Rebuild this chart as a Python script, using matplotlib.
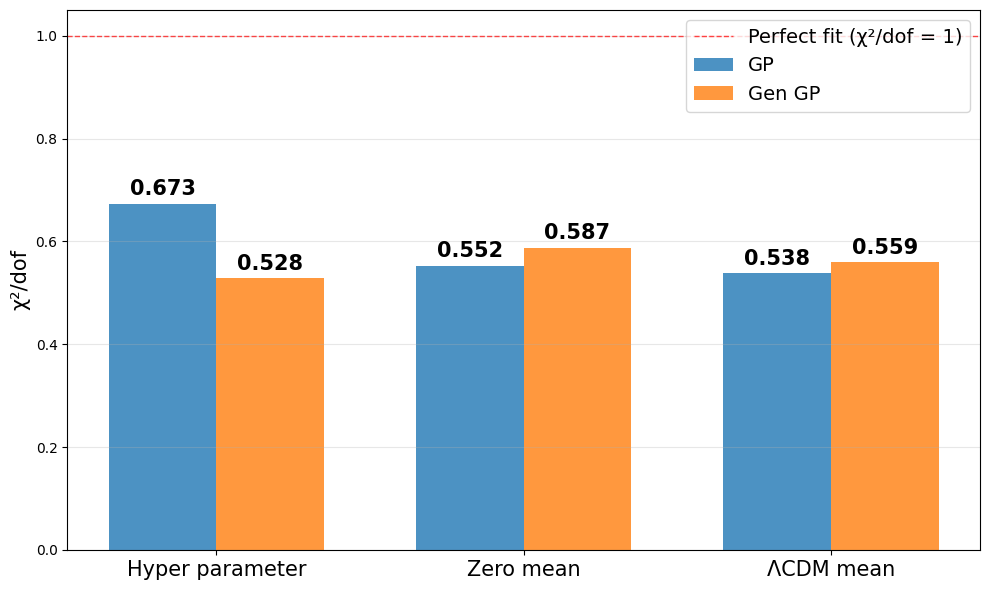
import numpy as np
import matplotlib.pyplot as plt

methods = ["Hyper parameter", "Zero mean", "ΛCDM mean"]
gp_vals = [0.673, 0.552, 0.538]
gen_gp_vals = [0.528, 0.587, 0.559]

x = np.arange(len(methods))
width = 0.35

fig, ax = plt.subplots(figsize=(9.89, 5.9), dpi=100)
b1 = ax.bar(x - width/2, gp_vals, width, label="GP", color="tab:blue", alpha=0.8)
b2 = ax.bar(x + width/2, gen_gp_vals, width, label="Gen GP", color="tab:orange", alpha=0.8)

ax.axhline(1.0, color="red", linestyle="--", linewidth=1, alpha=0.7,
           label="Perfect fit (χ²/dof = 1)")

for bars in (b1, b2):
    for bar in bars:
        h = bar.get_height()
        ax.text(bar.get_x() + bar.get_width()/2, h + 0.009, f"{h:.3f}",
                ha="center", va="bottom", fontsize=15, fontweight="bold")

ax.set_ylabel("χ²/dof", fontsize=15)
ax.set_xticks(x)
ax.set_xticklabels(methods, fontsize=15)
ax.set_ylim(0, 1.05)
ax.grid(axis="y", alpha=0.3)
ax.legend(fontsize=14, loc="upper right")

fig.subplots_adjust(left=0.068, right=0.991, top=0.983, bottom=0.068)
plt.savefig("out.png")
